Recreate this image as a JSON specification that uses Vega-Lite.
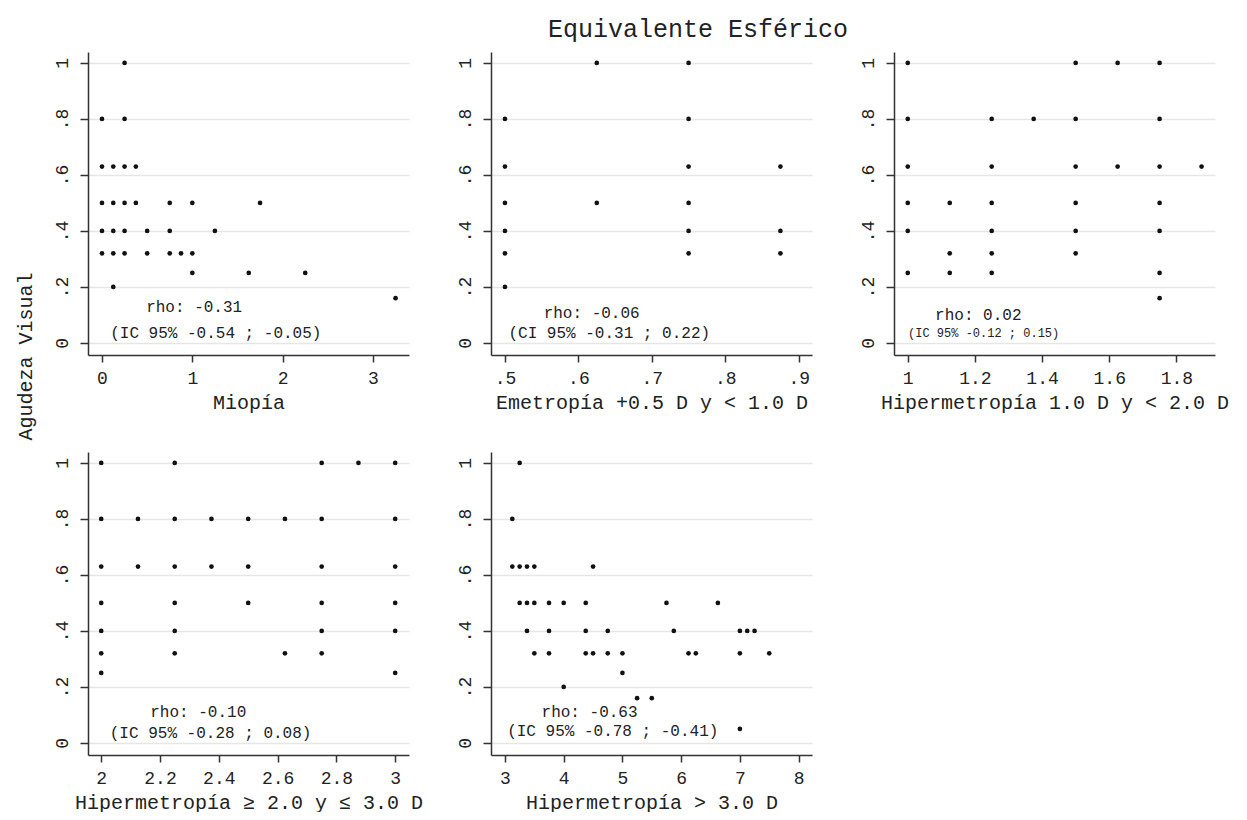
{
  "$schema": "https://vega.github.io/schema/vega-lite/v6.json",
  "background": "white",
  "padding": {"left": 15, "top": 17, "right": 5, "bottom": 0},
  "title": {"text": "Equivalente Esférico", "font": "Liberation Mono", "fontSize": 25, "fontWeight": "normal", "color": "#222", "anchor": "middle", "baseline": "alphabetic", "offset": -10, "dx": 610, "frame": "group"},
  "datasets": {
    "points": [
      {"panel": "mio", "x": 0.25, "y": 1},
      {"panel": "mio", "x": 0, "y": 0.8}, {"panel": "mio", "x": 0.25, "y": 0.8},
      {"panel": "mio", "x": 0, "y": 0.63}, {"panel": "mio", "x": 0.125, "y": 0.63}, {"panel": "mio", "x": 0.25, "y": 0.63}, {"panel": "mio", "x": 0.375, "y": 0.63},
      {"panel": "mio", "x": 0, "y": 0.5}, {"panel": "mio", "x": 0.125, "y": 0.5}, {"panel": "mio", "x": 0.25, "y": 0.5}, {"panel": "mio", "x": 0.375, "y": 0.5}, {"panel": "mio", "x": 0.75, "y": 0.5}, {"panel": "mio", "x": 1, "y": 0.5}, {"panel": "mio", "x": 1.75, "y": 0.5},
      {"panel": "mio", "x": 0, "y": 0.4}, {"panel": "mio", "x": 0.125, "y": 0.4}, {"panel": "mio", "x": 0.25, "y": 0.4}, {"panel": "mio", "x": 0.5, "y": 0.4}, {"panel": "mio", "x": 0.75, "y": 0.4}, {"panel": "mio", "x": 1.25, "y": 0.4},
      {"panel": "mio", "x": 0, "y": 0.32}, {"panel": "mio", "x": 0.125, "y": 0.32}, {"panel": "mio", "x": 0.25, "y": 0.32}, {"panel": "mio", "x": 0.5, "y": 0.32}, {"panel": "mio", "x": 0.75, "y": 0.32}, {"panel": "mio", "x": 0.875, "y": 0.32}, {"panel": "mio", "x": 1, "y": 0.32},
      {"panel": "mio", "x": 1, "y": 0.25}, {"panel": "mio", "x": 1.625, "y": 0.25}, {"panel": "mio", "x": 2.25, "y": 0.25},
      {"panel": "mio", "x": 0.125, "y": 0.2},
      {"panel": "mio", "x": 3.25, "y": 0.16},

      {"panel": "eme", "x": 0.5, "y": 0.8}, {"panel": "eme", "x": 0.5, "y": 0.63}, {"panel": "eme", "x": 0.5, "y": 0.5}, {"panel": "eme", "x": 0.5, "y": 0.4}, {"panel": "eme", "x": 0.5, "y": 0.32}, {"panel": "eme", "x": 0.5, "y": 0.2},
      {"panel": "eme", "x": 0.625, "y": 1}, {"panel": "eme", "x": 0.625, "y": 0.5},
      {"panel": "eme", "x": 0.75, "y": 1}, {"panel": "eme", "x": 0.75, "y": 0.8}, {"panel": "eme", "x": 0.75, "y": 0.63}, {"panel": "eme", "x": 0.75, "y": 0.5}, {"panel": "eme", "x": 0.75, "y": 0.4}, {"panel": "eme", "x": 0.75, "y": 0.32},
      {"panel": "eme", "x": 0.875, "y": 0.63}, {"panel": "eme", "x": 0.875, "y": 0.4}, {"panel": "eme", "x": 0.875, "y": 0.32},

      {"panel": "h1", "x": 1, "y": 1}, {"panel": "h1", "x": 1, "y": 0.8}, {"panel": "h1", "x": 1, "y": 0.63}, {"panel": "h1", "x": 1, "y": 0.5}, {"panel": "h1", "x": 1, "y": 0.4}, {"panel": "h1", "x": 1, "y": 0.25},
      {"panel": "h1", "x": 1.125, "y": 0.5}, {"panel": "h1", "x": 1.125, "y": 0.32}, {"panel": "h1", "x": 1.125, "y": 0.25},
      {"panel": "h1", "x": 1.25, "y": 0.8}, {"panel": "h1", "x": 1.25, "y": 0.63}, {"panel": "h1", "x": 1.25, "y": 0.5}, {"panel": "h1", "x": 1.25, "y": 0.4}, {"panel": "h1", "x": 1.25, "y": 0.32}, {"panel": "h1", "x": 1.25, "y": 0.25},
      {"panel": "h1", "x": 1.375, "y": 0.8},
      {"panel": "h1", "x": 1.5, "y": 1}, {"panel": "h1", "x": 1.5, "y": 0.8}, {"panel": "h1", "x": 1.5, "y": 0.63}, {"panel": "h1", "x": 1.5, "y": 0.5}, {"panel": "h1", "x": 1.5, "y": 0.4}, {"panel": "h1", "x": 1.5, "y": 0.32},
      {"panel": "h1", "x": 1.625, "y": 1}, {"panel": "h1", "x": 1.625, "y": 0.63},
      {"panel": "h1", "x": 1.75, "y": 1}, {"panel": "h1", "x": 1.75, "y": 0.8}, {"panel": "h1", "x": 1.75, "y": 0.63}, {"panel": "h1", "x": 1.75, "y": 0.5}, {"panel": "h1", "x": 1.75, "y": 0.4}, {"panel": "h1", "x": 1.75, "y": 0.25}, {"panel": "h1", "x": 1.75, "y": 0.16},
      {"panel": "h1", "x": 1.875, "y": 0.63},

      {"panel": "h2", "x": 2, "y": 1}, {"panel": "h2", "x": 2, "y": 0.8}, {"panel": "h2", "x": 2, "y": 0.63}, {"panel": "h2", "x": 2, "y": 0.5}, {"panel": "h2", "x": 2, "y": 0.4}, {"panel": "h2", "x": 2, "y": 0.32}, {"panel": "h2", "x": 2, "y": 0.25},
      {"panel": "h2", "x": 2.125, "y": 0.8}, {"panel": "h2", "x": 2.125, "y": 0.63},
      {"panel": "h2", "x": 2.25, "y": 1}, {"panel": "h2", "x": 2.25, "y": 0.8}, {"panel": "h2", "x": 2.25, "y": 0.63}, {"panel": "h2", "x": 2.25, "y": 0.5}, {"panel": "h2", "x": 2.25, "y": 0.4}, {"panel": "h2", "x": 2.25, "y": 0.32},
      {"panel": "h2", "x": 2.375, "y": 0.8}, {"panel": "h2", "x": 2.375, "y": 0.63},
      {"panel": "h2", "x": 2.5, "y": 0.8}, {"panel": "h2", "x": 2.5, "y": 0.63}, {"panel": "h2", "x": 2.5, "y": 0.5},
      {"panel": "h2", "x": 2.625, "y": 0.8}, {"panel": "h2", "x": 2.625, "y": 0.32},
      {"panel": "h2", "x": 2.75, "y": 1}, {"panel": "h2", "x": 2.75, "y": 0.8}, {"panel": "h2", "x": 2.75, "y": 0.63}, {"panel": "h2", "x": 2.75, "y": 0.5}, {"panel": "h2", "x": 2.75, "y": 0.4}, {"panel": "h2", "x": 2.75, "y": 0.32},
      {"panel": "h2", "x": 2.875, "y": 1},
      {"panel": "h2", "x": 3, "y": 1}, {"panel": "h2", "x": 3, "y": 0.8}, {"panel": "h2", "x": 3, "y": 0.63}, {"panel": "h2", "x": 3, "y": 0.5}, {"panel": "h2", "x": 3, "y": 0.4}, {"panel": "h2", "x": 3, "y": 0.25},

      {"panel": "h3", "x": 3.125, "y": 0.8}, {"panel": "h3", "x": 3.125, "y": 0.63},
      {"panel": "h3", "x": 3.25, "y": 1}, {"panel": "h3", "x": 3.25, "y": 0.63}, {"panel": "h3", "x": 3.25, "y": 0.5},
      {"panel": "h3", "x": 3.375, "y": 0.63}, {"panel": "h3", "x": 3.375, "y": 0.5}, {"panel": "h3", "x": 3.375, "y": 0.4},
      {"panel": "h3", "x": 3.5, "y": 0.63}, {"panel": "h3", "x": 3.5, "y": 0.5}, {"panel": "h3", "x": 3.5, "y": 0.32},
      {"panel": "h3", "x": 3.75, "y": 0.5}, {"panel": "h3", "x": 3.75, "y": 0.4}, {"panel": "h3", "x": 3.75, "y": 0.32},
      {"panel": "h3", "x": 4, "y": 0.5}, {"panel": "h3", "x": 4, "y": 0.2},
      {"panel": "h3", "x": 4.375, "y": 0.5}, {"panel": "h3", "x": 4.375, "y": 0.4}, {"panel": "h3", "x": 4.375, "y": 0.32},
      {"panel": "h3", "x": 4.5, "y": 0.63}, {"panel": "h3", "x": 4.5, "y": 0.32},
      {"panel": "h3", "x": 4.75, "y": 0.4}, {"panel": "h3", "x": 4.75, "y": 0.32},
      {"panel": "h3", "x": 5, "y": 0.32}, {"panel": "h3", "x": 5, "y": 0.25},
      {"panel": "h3", "x": 5.25, "y": 0.16},
      {"panel": "h3", "x": 5.5, "y": 0.16},
      {"panel": "h3", "x": 5.75, "y": 0.5},
      {"panel": "h3", "x": 5.875, "y": 0.4},
      {"panel": "h3", "x": 6.125, "y": 0.32},
      {"panel": "h3", "x": 6.25, "y": 0.32},
      {"panel": "h3", "x": 6.625, "y": 0.5},
      {"panel": "h3", "x": 7, "y": 0.4}, {"panel": "h3", "x": 7, "y": 0.32}, {"panel": "h3", "x": 7, "y": 0.05},
      {"panel": "h3", "x": 7.125, "y": 0.4},
      {"panel": "h3", "x": 7.25, "y": 0.4},
      {"panel": "h3", "x": 7.5, "y": 0.32}
    ],
    "ann": [
      {"panel": "mio", "kind": "rho", "x": 1.02, "y": 0.13, "label": "rho: -0.31"},
      {"panel": "mio", "kind": "ci", "x": 1.26, "y": 0.035, "label": "(IC 95% -0.54 ; -0.05)"},
      {"panel": "eme", "kind": "rho", "x": 0.618, "y": 0.108, "label": "rho: -0.06"},
      {"panel": "eme", "kind": "ci", "x": 0.642, "y": 0.035, "label": "(CI 95% -0.31 ; 0.22)"},
      {"panel": "h1", "kind": "rho", "x": 1.21, "y": 0.099, "label": "rho: 0.02"},
      {"panel": "h1", "kind": "ci", "x": 1.226, "y": 0.035, "label": "(IC 95% -0.12 ; 0.15)"},
      {"panel": "h2", "kind": "rho", "x": 2.33, "y": 0.11, "label": "rho: -0.10"},
      {"panel": "h2", "kind": "ci", "x": 2.372, "y": 0.037, "label": "(IC 95% -0.28 ; 0.08)"},
      {"panel": "h3", "kind": "rho", "x": 4.44, "y": 0.11, "label": "rho: -0.63"},
      {"panel": "h3", "kind": "ci", "x": 4.835, "y": 0.043, "label": "(IC 95% -0.78 ; -0.41)"}
    ]
  },
  "columns": 3,
  "bounds": "flush",
  "spacing": {"row": 97, "column": 82},
  "concat": [
    {
      "width": 321, "height": 303,
      "encoding": {
        "x": {"field": "x", "type": "quantitative", "scale": {"domain": [-0.155, 3.399], "nice": false, "zero": false},
              "axis": {"title": "Miopía", "values": [0, 1, 2, 3]}},
        "y": {"field": "y", "type": "quantitative", "scale": {"domain": [-0.043, 1.039], "nice": false},
              "axis": {"title": "Agudeza Visual", "titleAngle": 270, "titleX": -57, "titleY": 304, "titleAlign": "center", "titleBaseline": "alphabetic", "values": [0, 0.2, 0.4, 0.6, 0.8, 1], "labelExpr": "datum.value === 0 ? '0' : datum.value === 1 ? '1' : substring(format(datum.value, '.1f'), 1)"}}
      },
      "layer": [
        {"data": {"name": "points"}, "transform": [{"filter": "datum.panel === 'mio'"}], "mark": {"type": "circle", "size": 22, "color": "#111", "opacity": 1}},
        {"data": {"name": "ann"}, "transform": [{"filter": "datum.panel === 'mio' && datum.kind === 'rho'"}], "mark": {"type": "text", "font": "Liberation Mono", "fontSize": 16, "color": "#222"}, "encoding": {"text": {"field": "label"}}},
        {"data": {"name": "ann"}, "transform": [{"filter": "datum.panel === 'mio' && datum.kind === 'ci'"}], "mark": {"type": "text", "font": "Liberation Mono", "fontSize": 16, "color": "#222"}, "encoding": {"text": {"field": "label"}}}
      ]
    },
    {
      "width": 321, "height": 303,
      "encoding": {
        "x": {"field": "x", "type": "quantitative", "scale": {"domain": [0.481, 0.918], "nice": false, "zero": false},
              "axis": {"title": "Emetropía +0.5 D y < 1.0 D", "values": [0.5, 0.6, 0.7, 0.8, 0.9], "labelExpr": "substring(format(datum.value, '.1f'), 1)"}},
        "y": {"field": "y", "type": "quantitative", "scale": {"domain": [-0.043, 1.039], "nice": false},
              "axis": {"title": null, "values": [0, 0.2, 0.4, 0.6, 0.8, 1], "labelExpr": "datum.value === 0 ? '0' : datum.value === 1 ? '1' : substring(format(datum.value, '.1f'), 1)"}}
      },
      "layer": [
        {"data": {"name": "points"}, "transform": [{"filter": "datum.panel === 'eme'"}], "mark": {"type": "circle", "size": 22, "color": "#111", "opacity": 1}},
        {"data": {"name": "ann"}, "transform": [{"filter": "datum.panel === 'eme' && datum.kind === 'rho'"}], "mark": {"type": "text", "font": "Liberation Mono", "fontSize": 16, "color": "#222"}, "encoding": {"text": {"field": "label"}}},
        {"data": {"name": "ann"}, "transform": [{"filter": "datum.panel === 'eme' && datum.kind === 'ci'"}], "mark": {"type": "text", "font": "Liberation Mono", "fontSize": 16, "color": "#222"}, "encoding": {"text": {"field": "label"}}}
      ]
    },
    {
      "width": 321, "height": 303,
      "encoding": {
        "x": {"field": "x", "type": "quantitative", "scale": {"domain": [0.959, 1.915], "nice": false, "zero": false},
              "axis": {"title": "Hipermetropía 1.0 D y < 2.0 D", "values": [1, 1.2, 1.4, 1.6, 1.8], "labelExpr": "datum.value === 1 ? '1' : format(datum.value, '.1f')"}},
        "y": {"field": "y", "type": "quantitative", "scale": {"domain": [-0.043, 1.039], "nice": false},
              "axis": {"title": null, "values": [0, 0.2, 0.4, 0.6, 0.8, 1], "labelExpr": "datum.value === 0 ? '0' : datum.value === 1 ? '1' : substring(format(datum.value, '.1f'), 1)"}}
      },
      "layer": [
        {"data": {"name": "points"}, "transform": [{"filter": "datum.panel === 'h1'"}], "mark": {"type": "circle", "size": 22, "color": "#111", "opacity": 1}},
        {"data": {"name": "ann"}, "transform": [{"filter": "datum.panel === 'h1' && datum.kind === 'rho'"}], "mark": {"type": "text", "font": "Liberation Mono", "fontSize": 16, "color": "#222"}, "encoding": {"text": {"field": "label"}}},
        {"data": {"name": "ann"}, "transform": [{"filter": "datum.panel === 'h1' && datum.kind === 'ci'"}], "mark": {"type": "text", "font": "Liberation Mono", "fontSize": 12, "color": "#222"}, "encoding": {"text": {"field": "label"}}}
      ]
    },
    {
      "width": 321, "height": 303,
      "encoding": {
        "x": {"field": "x", "type": "quantitative", "scale": {"domain": [1.955, 3.047], "nice": false, "zero": false},
              "axis": {"title": "Hipermetropía ≥ 2.0 y ≤ 3.0 D", "values": [2, 2.2, 2.4, 2.6, 2.8, 3], "labelExpr": "format(datum.value, '~g')"}},
        "y": {"field": "y", "type": "quantitative", "scale": {"domain": [-0.043, 1.039], "nice": false},
              "axis": {"title": null, "values": [0, 0.2, 0.4, 0.6, 0.8, 1], "labelExpr": "datum.value === 0 ? '0' : datum.value === 1 ? '1' : substring(format(datum.value, '.1f'), 1)"}}
      },
      "layer": [
        {"data": {"name": "points"}, "transform": [{"filter": "datum.panel === 'h2'"}], "mark": {"type": "circle", "size": 22, "color": "#111", "opacity": 1}},
        {"data": {"name": "ann"}, "transform": [{"filter": "datum.panel === 'h2' && datum.kind === 'rho'"}], "mark": {"type": "text", "font": "Liberation Mono", "fontSize": 16, "color": "#222"}, "encoding": {"text": {"field": "label"}}},
        {"data": {"name": "ann"}, "transform": [{"filter": "datum.panel === 'h2' && datum.kind === 'ci'"}], "mark": {"type": "text", "font": "Liberation Mono", "fontSize": 16, "color": "#222"}, "encoding": {"text": {"field": "label"}}}
      ]
    },
    {
      "width": 321, "height": 303,
      "encoding": {
        "x": {"field": "x", "type": "quantitative", "scale": {"domain": [2.762, 8.228], "nice": false, "zero": false},
              "axis": {"title": "Hipermetropía > 3.0 D", "values": [3, 4, 5, 6, 7, 8]}},
        "y": {"field": "y", "type": "quantitative", "scale": {"domain": [-0.043, 1.039], "nice": false},
              "axis": {"title": null, "values": [0, 0.2, 0.4, 0.6, 0.8, 1], "labelExpr": "datum.value === 0 ? '0' : datum.value === 1 ? '1' : substring(format(datum.value, '.1f'), 1)"}}
      },
      "layer": [
        {"data": {"name": "points"}, "transform": [{"filter": "datum.panel === 'h3'"}], "mark": {"type": "circle", "size": 22, "color": "#111", "opacity": 1}},
        {"data": {"name": "ann"}, "transform": [{"filter": "datum.panel === 'h3' && datum.kind === 'rho'"}], "mark": {"type": "text", "font": "Liberation Mono", "fontSize": 16, "color": "#222"}, "encoding": {"text": {"field": "label"}}},
        {"data": {"name": "ann"}, "transform": [{"filter": "datum.panel === 'h3' && datum.kind === 'ci'"}], "mark": {"type": "text", "font": "Liberation Mono", "fontSize": 16, "color": "#222"}, "encoding": {"text": {"field": "label"}}}
      ]
    }
  ],
  "config": {
    "view": {"stroke": null},
    "axis": {"domainColor": "#333", "domainWidth": 1.5, "tickColor": "#333", "tickWidth": 1.5, "labelFont": "Liberation Mono", "labelFontSize": 18, "labelColor": "#222", "titleFont": "Liberation Mono", "titleFontWeight": "normal", "titleFontSize": 20, "titleColor": "#222", "gridColor": "#e6e6e6", "gridWidth": 1.5, "labelFlush": false, "labelOverlap": false},
    "axisX": {"grid": false, "tickSize": 7, "labelPadding": 7, "titlePadding": 5},
    "axisY": {"grid": true, "tickSize": 8, "labelAngle": 270, "labelAlign": "center", "labelBaseline": "bottom", "labelPadding": 9}
  }
}
